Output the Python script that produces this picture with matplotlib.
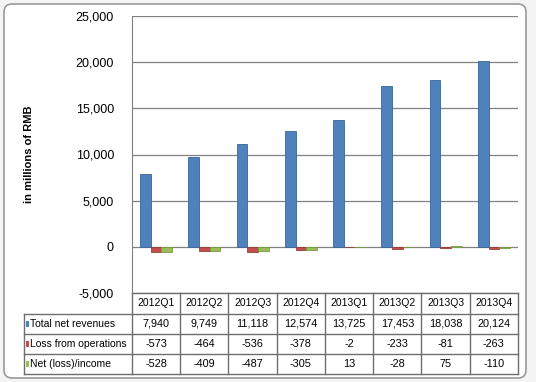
import numpy as np
import matplotlib.pyplot as plt
from matplotlib.patches import FancyBboxPatch, Rectangle
from matplotlib.transforms import blended_transform_factory

# data (millions of RMB)
quarters = ['2012Q1', '2012Q2', '2012Q3', '2012Q4',
            '2013Q1', '2013Q2', '2013Q3', '2013Q4']
revenues = [7940, 9749, 11118, 12574, 13725, 17453, 18038, 20124]
op_loss = [-573, -464, -536, -378, -2, -233, -81, -263]
net_income = [-528, -409, -487, -305, 13, -28, 75, -110]
series_names = ['Total net revenues', 'Loss from operations', 'Net (loss)/income']
y_ticks = [-5000, 0, 5000, 10000, 15000, 20000, 25000]

colors = ['#4F81BD', '#C0504D', '#9BBB59']
edges = ['#3A6597', '#9B3B38', '#7A9A3F']
line_col = '#6E6E6E'

W, H = 536, 382
plt.rcParams['font.family'] = ['Liberation Sans', 'DejaVu Sans']

fig = plt.figure(figsize=(W / 100, H / 100), dpi=100)
fig.patch.set_facecolor('#F4F4F4')


def fx(x):
    return x / W


def fy(y):
    return 1 - y / H


# chart area with rounded border (pixel coords), kept behind the axes
border = FancyBboxPatch((4, H - 378), 522, 374, boxstyle='round,pad=0,rounding_size=8',
                        transform=None, facecolor='white', edgecolor='#9A9A9A', lw=1.2,
                        zorder=-10)
fig.patches.append(border)

ax = fig.add_axes([fx(132), fy(293), fx(518) - fx(132), fy(16) - fy(293)])
ax.set_facecolor('none')

x = np.arange(len(quarters))
w = 0.22
all_series = [revenues, op_loss, net_income]
for k, vals in enumerate(all_series):
    ax.bar(x + (k - 1) * w, vals, w, color=colors[k], edgecolor=edges[k], lw=0.6, zorder=3)

ax.set_xlim(-0.5, len(quarters) - 0.5)
ax.set_ylim(y_ticks[0], y_ticks[-1])
ax.set_yticks(y_ticks)
ax.set_yticklabels([f'{t:,}' for t in y_ticks])
ax.set_xticks([])
ax.tick_params(axis='y', length=0, pad=13, labelsize=9, labelcolor='black')
ax.grid(axis='y', color='#808080', lw=0.9, zorder=0)
ax.set_axisbelow(True)
for s in ['top', 'right', 'bottom']:
    ax.spines[s].set_visible(False)
ax.spines['left'].set_color('#808080')

fig.text(fx(29), fy(154), 'in millions of RMB', rotation=90, weight='bold',
         size=8, ha='center', va='center')

# data table underneath
tr = blended_transform_factory(ax.transData, fig.transFigure)
row_edges = [293, 314, 334, 354, 374]
n = len(quarters)
lkw = dict(color=line_col, lw=1, clip_on=False)

# horizontal lines
ax.plot([-0.5, n - 0.5], [fy(293)] * 2, transform=tr, **lkw)
for ry in row_edges[1:]:
    fig.add_artist(plt.Line2D([fx(24), fx(132)], [fy(ry)] * 2, transform=fig.transFigure, **lkw))
    ax.plot([-0.5, n - 0.5], [fy(ry)] * 2, transform=tr, **lkw)
# vertical lines
for i in range(n + 1):
    ax.plot([i - 0.5] * 2, [fy(293), fy(374)], transform=tr, **lkw)
fig.add_artist(plt.Line2D([fx(24)] * 2, [fy(314), fy(374)], transform=fig.transFigure, **lkw))

tsize = 7.5
for i, q in enumerate(quarters):
    ax.text(i, fy(303.5), q, transform=tr, ha='center', va='center', size=tsize)
for r, (name, vals) in enumerate(zip(series_names, all_series)):
    yc = (row_edges[r + 1] + row_edges[r + 2]) / 2
    fig.patches.append(Rectangle((fx(25.5), fy(yc + 3)), fx(3.5), fy(yc - 3) - fy(yc + 3),
                                 transform=fig.transFigure, facecolor=colors[r], edgecolor='none'))
    fig.text(fx(30), fy(yc), name, ha='left', va='center', size=tsize)
    for i, v in enumerate(vals):
        ax.text(i, fy(yc), f'{v:,}', transform=tr, ha='center', va='center', size=7.8)

fig.savefig('out.png', dpi=100, facecolor=fig.get_facecolor())
